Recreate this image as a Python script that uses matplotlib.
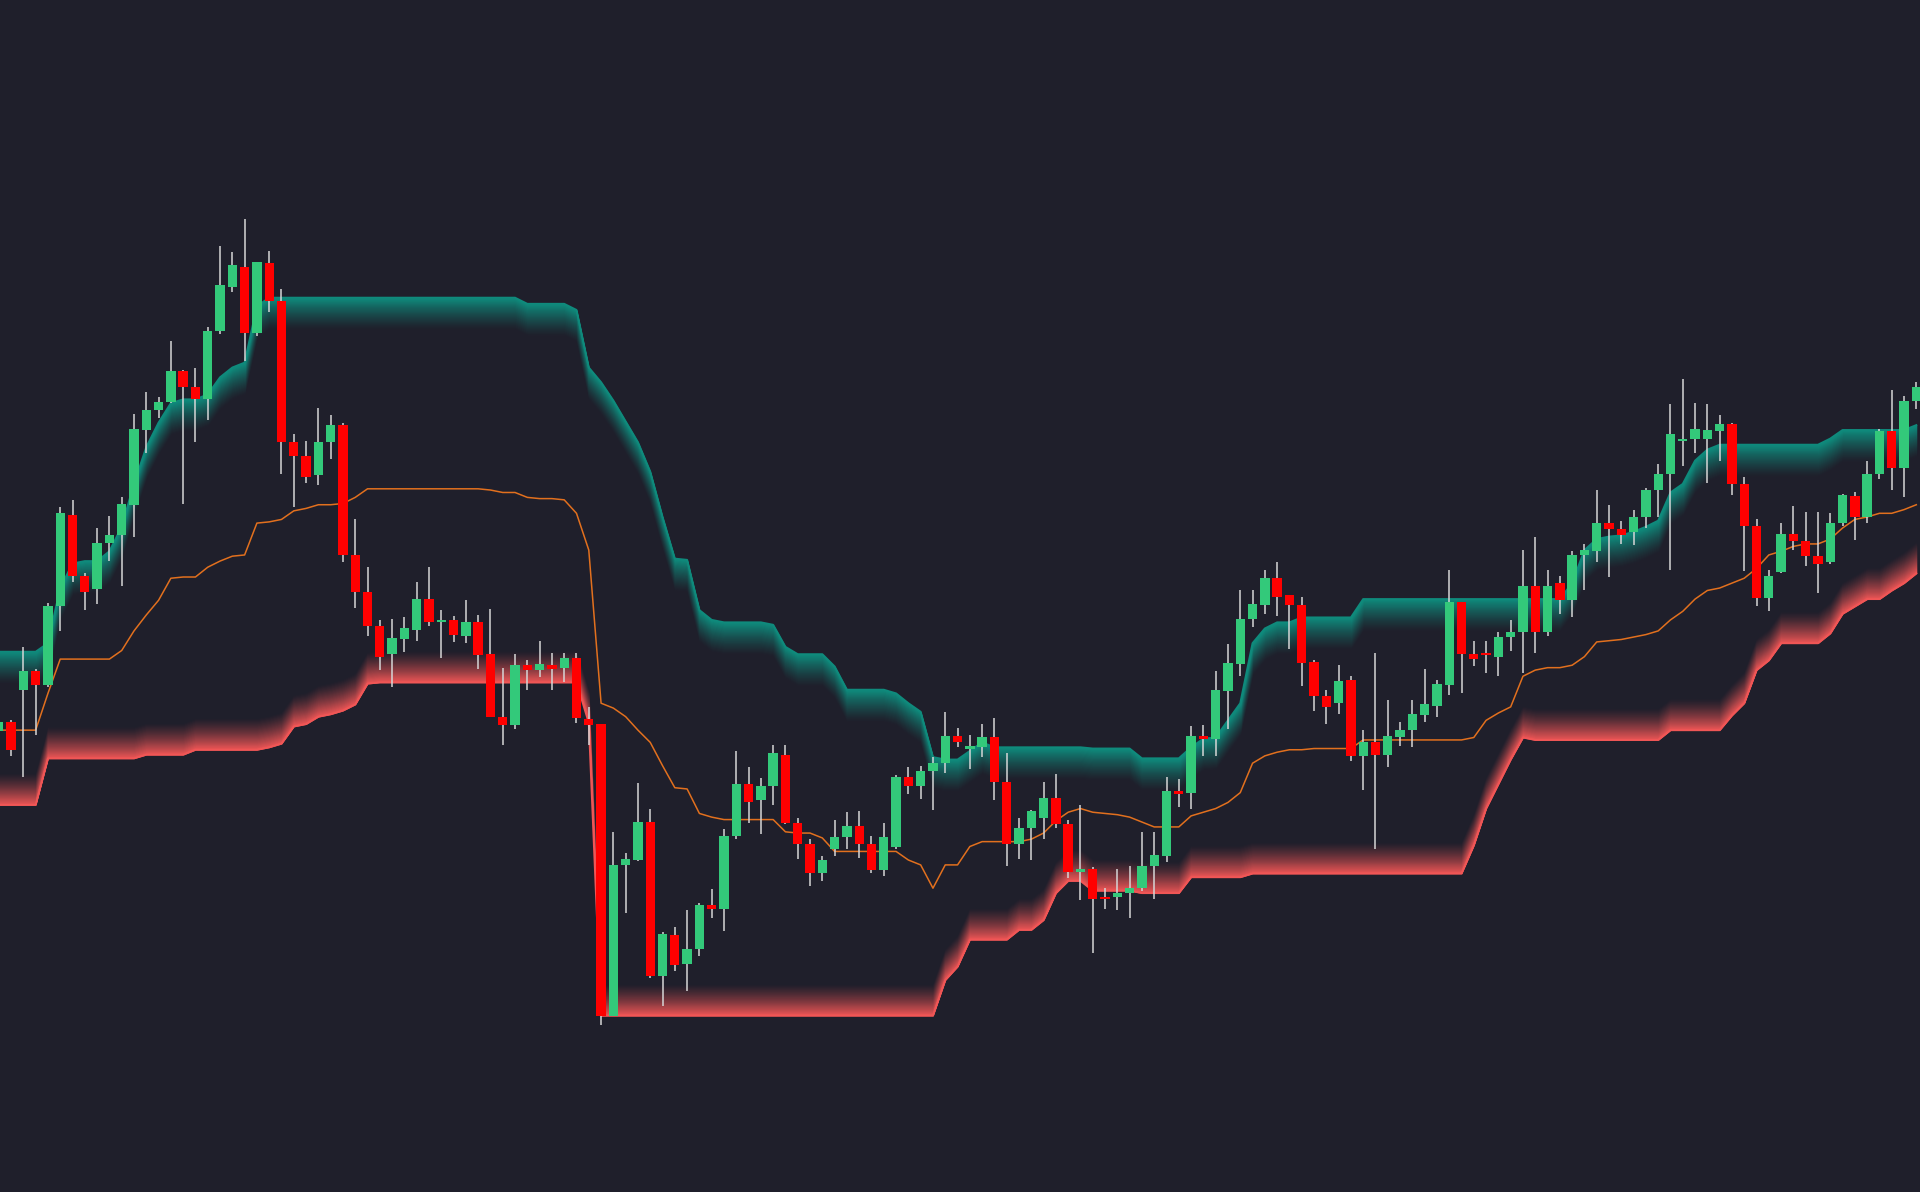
import numpy as np
import matplotlib
matplotlib.use("Agg")
import matplotlib.pyplot as plt
from matplotlib.colors import to_rgb

# OHLC per candle
opens = [403,411,437,452,441,505,580,530,519,557,563,588,649,665,672,697,684,674,730,766,782,728,785,754,639,628,612,639,653,547,
         517,489,466,478,486,511,492,494,481,492,466,415,408,457,453,457,455,463,413,409,171,294,298,329,203,237,213,225,261,258,
         318,360,347,358,384,328,311,287,307,317,326,311,290,309,366,358,371,377,399,389,390,398,362,311,324,332,349,327,288,291,
         268,268,271,275,293,301,354,353,399,397,436,458,495,506,528,514,506,460,432,426,445,383,394,384,398,404,416,424,441,509,
         466,466,464,480,484,522,484,524,510,547,550,573,568,566,578,600,613,640,642,642,648,654,605,571,512,533,564,558,546,541,
         573,595,578,613,648,618,673]
highs = [415,412,472,454,508,586,592,532,569,579,594,662,680,676,722,698,700,733,799,794,821,786,795,764,646,640,667,661,655,576,
         537,494,495,496,525,537,502,497,510,498,503,455,466,461,477,467,467,467,423,409,321,304,361,340,239,243,257,263,274,323,
         387,374,365,392,392,332,315,301,331,337,338,318,328,367,374,375,382,419,406,400,409,414,385,332,339,362,368,331,343,292,
         275,291,293,321,321,366,364,407,408,452,474,518,518,535,541,514,513,461,437,457,448,404,467,429,411,429,454,445,535,509,
         477,477,484,494,551,562,535,530,550,556,600,588,575,584,602,621,670,691,671,670,661,655,611,576,535,573,587,582,582,581,
         597,598,624,650,682,677,688]
lows = [400,383,366,400,439,485,525,502,507,542,522,562,630,659,671,589,639,657,727,762,705,726,745,613,586,606,604,625,541,504,
        481,453,439,468,477,489,463,476,475,454,415,392,405,437,447,437,443,410,392,163,171,255,297,202,179,207,191,220,251,240,
        315,328,319,343,327,299,277,281,301,307,300,287,285,307,352,348,339,369,390,372,382,347,293,299,298,315,324,283,265,222,
        258,257,251,273,266,296,341,340,383,383,405,448,488,499,497,470,440,420,409,417,379,355,307,374,391,390,411,415,433,434,
        456,451,448,469,451,467,481,499,496,518,541,529,556,555,569,578,535,620,630,606,624,596,534,505,501,532,551,538,516,540,
        571,559,573,609,600,594,666]
closes = [411,388,452,441,505,581,530,517,557,563,589,650,665,672,697,684,674,730,767,784,728,786,754,639,628,611,639,653,547,517,
          489,464,479,487,511,492,494,482,492,465,415,408,457,453,458,454,463,414,408,171,294,299,329,203,238,212,225,261,258,318,
          360,345,358,385,328,311,287,298,317,326,311,290,317,366,358,371,377,399,394,390,398,362,311,324,338,349,327,288,291,266,
          266,271,275,293,302,354,352,399,397,437,459,495,507,528,513,506,459,432,423,444,383,394,384,399,404,417,425,442,509,466,
          462,465,480,484,522,484,522,510,547,551,573,568,563,578,600,613,646,642,650,649,654,605,571,512,530,564,558,546,540,573,
          596,578,613,648,618,673,684]

# Upper (teal) trailing band
upper = ([468]*4 + [475,520,540,542,542,550,570,605,635,655,671,674,674,678,692,700,704,750] + [757]*21 +
         [752]*4 + [747,700,688,673,656,639,615,578,544,543,502,494] + [492]*4 + [490,472,466,466,466,456] +
         [437]*4 + [434,426,419,382,380,380,387,394] + [390]*8 + [389]*4 + [381]*4 +
         [390,397,398,412,426,475,487,492,492] + [496]*5 + [511]*17 +
         [524,551,560,562,563,566,570,575,598,605,624,633] + [637]*9 + [642] + [649]*6 + [653])
# Lower (red) trailing band
lower = ([343]*4 + [381]*8 + [384]*4 + [388]*6 + [390,393,407,409,415,417,420,425,442] + [443]*17 + [410] +
         [171]*28 + [200,211] + [233]*4 + [241,241,249,271,281,281] + [273]*4 + [271]*4 + [284]*5 +
         [287]*18 + [310,340,360,380,398] + [396]*11 + [404]*5 +
         [416,426,453,461] + [475]*4 + [483,499,505,511,511,518,524,532])
# Middle (orange) line
middle = ([404]*4 + [434] + [462]*5 + [469,485,498,510,528,529,529,537,542,546,547,573,574,576,583,585,588,588,589,594,601] +
          [601]*9 + [600,598,598,594,593,593,592,581,551,426,422,415,404,394,375,357,356,336,333] + [331]*5 +
          [321,320,320,316] + [305]*6 + [298,294,275,294,294,309,313,313,313,313,315,320,330,337,340,337,336,335,333,329,
          325,325,325,334,337,340,345,353,377,383,386,388,388,389,389,389,389] + [396]*9 +
          [398,412,418,423,448,453,455,455,457,464,476,477,478,480,482,485,494,501,511,518,520,524,528,536,547,550,554,556,
           556,560,569,576,578,581,581,584,588])

n = len(opens)
for arr in (highs, lows, closes, upper, lower, middle):
    assert len(arr) == n, len(arr)

BG = "#1f1f2b"
TEAL = "#0f8a7c"
RED = "#f05656"
GREEN = "#33c97a"
CRED = "#ff0000"
ORANGE = "#e2701e"

fig = plt.figure(figsize=(19.2, 11.92), dpi=100, facecolor=BG)
ax = fig.add_axes([0, 0, 1, 1])
ax.set_facecolor(BG)
ax.axis("off")
x = np.arange(n)
o, h, l, c = map(np.array, (opens, highs, lows, closes))
up, lo, mid = map(np.array, (upper, lower, middle))

bg = np.array(to_rgb(BG))
def band(line, color, depth, direction):
    col = np.array(to_rgb(color))
    N = 30
    for k in range(N):
        t = (k + 0.5) / N
        a = (1 - t) ** 1.3
        cc = bg * (1 - a) + col * a
        y1 = line + direction * depth * k / N
        y2 = line + direction * depth * (k + 1) / N
        ax.fill_between(x, y1, y2, color=cc, lw=0.6, edgecolor=cc, zorder=1 + (N - k) * 0.001)
    ax.plot(x, line, color=color, lw=1.4, zorder=1.1)

band(up, TEAL, 26, -1)
band(lo, RED, 26, +1)
ax.plot(x, mid, color=ORANGE, lw=1.1, zorder=2)

colors = np.where(c >= o, GREEN, CRED)
ax.vlines(x, l, h, colors="#d6d6d6", lw=1.1, zorder=3)
bottoms = np.minimum(o, c)
heights = np.maximum(np.abs(c - o), 2.0)
ax.bar(x, heights, bottom=bottoms, width=0.76, color=colors, lw=0, zorder=4)

ax.set_xlim(0.1, 156.3)
ax.set_ylim(27, 1000)
fig.savefig("out.png", dpi=100, facecolor=BG)
